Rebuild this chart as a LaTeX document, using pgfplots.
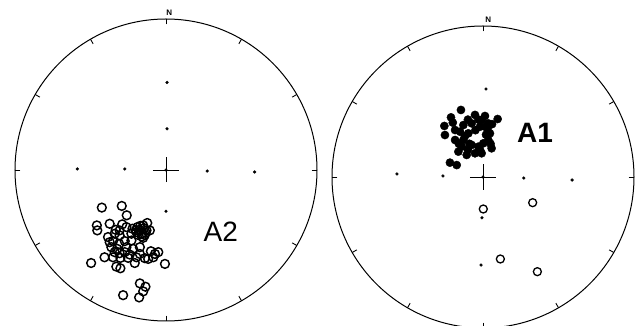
\documentclass[border=0pt]{standalone}
\usepackage{fontspec}
\setmainfont{Liberation Sans}
\usepackage{pgfplots}
\pgfplotsset{compat=1.18}
\begin{document}
\begin{tikzpicture}
\useasboundingbox (0pt,0pt) rectangle (635pt,326pt);
\pgfplotsset{net/.style={hide axis, scale only axis, width=302pt, height=302pt,
  xmin=-1,xmax=1,ymin=-1,ymax=1, clip=false, anchor=south west}}
% ---------------- Left net (A2) ----------------
\begin{axis}[net, at={(15pt,5pt)}]
\draw[line width=1pt] (axis cs:0,0) circle [radius=1];
\pgfplotsinvokeforeach{0,30,60,90,120,150,180,210,240,270,300,330}{
  \draw[line width=0.9pt] (axis cs:{0.965*sin(#1)},{0.965*cos(#1)}) -- (axis cs:{sin(#1)},{cos(#1)});}
\draw[line width=0.8pt] (axis cs:-0.087,0) -- (axis cs:0.087,0);
\draw[line width=0.8pt] (axis cs:0,-0.08) -- (axis cs:0,0.085);
\addplot[only marks, mark=*, mark size=1.4pt, black] coordinates {
 (0,0) (0.007,0.58) (0.007,0.273) (-0.587,0.007) (-0.273,0.007) (0.273,-0.007) (0.587,-0.013) (0,-0.273)};
\addplot[only marks, mark=o, mark size=4.4pt, black, line width=1.45pt] coordinates {
 (-0.425,-0.249) (-0.293,-0.238) (-0.26,-0.30) (-0.458,-0.367) (-0.455,-0.40)
 (-0.373,-0.356) (-0.333,-0.396) (-0.262,-0.378)
 (-0.222,-0.389) (-0.189,-0.378) (-0.151,-0.367) (-0.129,-0.40) (-0.162,-0.422)
 (-0.151,-0.449) (-0.196,-0.411) (-0.229,-0.422) (-0.175,-0.395) (-0.14,-0.43)
 (-0.17,-0.37) (-0.2,-0.4) (-0.145,-0.385) (-0.185,-0.43) (-0.16,-0.44) (-0.135,-0.415)
 (-0.124,-0.351) (-0.107,-0.40)
 (-0.384,-0.444) (-0.351,-0.471) (-0.307,-0.433) (-0.273,-0.471)
 (-0.362,-0.511) (-0.324,-0.522) (-0.262,-0.511) (-0.218,-0.522) (-0.173,-0.511)
 (-0.307,-0.551) (-0.24,-0.56) (-0.407,-0.578) (-0.351,-0.578) (-0.302,-0.582)
 (-0.251,-0.582) (-0.196,-0.578) (-0.14,-0.584) (-0.1,-0.538) (-0.073,-0.556)
 (-0.051,-0.544) (-0.118,-0.589) (-0.496,-0.616) (-0.207,-0.616) (-0.007,-0.622)
 (-0.329,-0.64) (-0.302,-0.651) (-0.173,-0.751) (-0.136,-0.773) (-0.151,-0.804)
 (-0.178,-0.844) (-0.284,-0.829)
 (-0.34,-0.422) (-0.229,-0.467) (-0.307,-0.40) (-0.173,-0.556) (-0.34,-0.544)
 (-0.273,-0.544) (-0.373,-0.478) (-0.084,-0.578) (-0.29,-0.36) (-0.31,-0.49)};
\node[font=\bfseries\fontsize{8}{8}\selectfont] at (axis cs:0.022,1.04) {N};
\node[font=\fontsize{28}{28}\selectfont] at (axis cs:0.363,-0.411) {A2};
\end{axis}
% ---------------- Right net (A1) ----------------
\begin{axis}[net, at={(332pt,-2pt)}]
\draw[line width=1pt] (axis cs:0,0) circle [radius=1];
\pgfplotsinvokeforeach{0,30,60,90,120,150,180,210,240,270,300,330}{
  \draw[line width=0.9pt] (axis cs:{0.965*sin(#1)},{0.965*cos(#1)}) -- (axis cs:{sin(#1)},{cos(#1)});}
\draw[line width=0.8pt] (axis cs:-0.087,0) -- (axis cs:0.087,0);
\draw[line width=0.8pt] (axis cs:0,-0.085) -- (axis cs:0,0.085);
\addplot[only marks, mark=*, mark size=1.4pt, black] coordinates {
 (0,0) (0.02,0.583) (0.01,0.27) (-0.57,0.02) (-0.265,0.007) (0.27,-0.007) (0.59,-0.02) (-0.007,-0.27) (-0.013,-0.583)};
\addplot[only marks, mark=*, mark size=4.1pt, black] coordinates {
 (-0.146,0.444) (-0.212,0.395) (-0.256,0.338) (-0.252,0.278) (-0.053,0.411)
 (0.013,0.404) (0.097,0.384) (-0.185,0.311) (-0.219,0.095) (-0.174,0.079)
 (-0.108,0.146) (-0.163,0.168) (-0.009,0.157) (0.035,0.245) (0.046,0.289)
 (-0.02,0.333) (-0.075,0.355) (-0.13,0.344) (-0.13,0.245) (-0.075,0.212)
 (0.002,0.223) (0.013,0.333) (-0.031,0.201) (-0.097,0.289)
 (-0.141,0.201) (-0.009,0.377) (0.035,0.355) (0.057,0.19) (-0.053,0.157)
 (-0.185,0.245) (-0.152,0.3)
 (-0.1,0.38) (-0.05,0.31) (0.02,0.28) (-0.12,0.27) (-0.09,0.22) (-0.02,0.18)
 (0.03,0.32) (-0.16,0.22) (-0.1,0.18) (0.05,0.22) (-0.2,0.36) (0.06,0.35) (-0.03,0.38)};
\addplot[only marks, mark=o, mark size=4pt, black, line width=1.3pt] coordinates {
 (0.002,-0.212) (0.329,-0.170) (0.115,-0.543) (0.36,-0.627)};
\node[font=\bfseries\fontsize{8}{8}\selectfont] at (axis cs:0.035,1.044) {N};
\node[font=\bfseries\fontsize{28}{28}\selectfont] at (axis cs:0.344,0.291) {A1};
\end{axis}
\end{tikzpicture}
\end{document}
